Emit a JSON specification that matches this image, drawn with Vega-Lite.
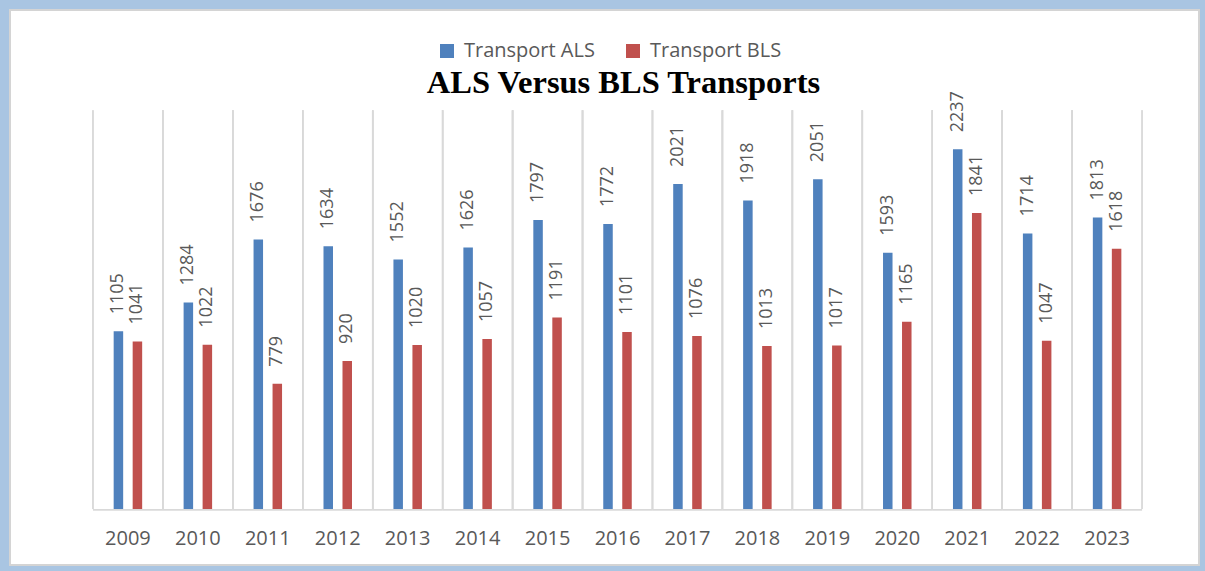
{
  "$schema": "https://vega.github.io/schema/vega-lite/v6.json",
  "width": 1189,
  "height": 555,
  "autosize": {"type": "none"},
  "padding": {"left": 10, "top": 10, "right": 6, "bottom": 6},
  "background": "#a9c5e2",
  "config": {"view": {"fill": "white", "stroke": "#d4d4d4", "strokeWidth": 2}},
  "title": {
    "text": "ALS Versus BLS Transports",
    "font": "Liberation Serif",
    "fontSize": 32.5,
    "fontWeight": "bold",
    "color": "#000000",
    "anchor": "middle",
    "dx": 19,
    "offset": -115,
    "baseline": "alphabetic"
  },
  "data": {
    "values": [
      {"year": "2009", "series": "Transport ALS", "value": 1105},
      {"year": "2009", "series": "Transport BLS", "value": 1041},
      {"year": "2010", "series": "Transport ALS", "value": 1284},
      {"year": "2010", "series": "Transport BLS", "value": 1022},
      {"year": "2011", "series": "Transport ALS", "value": 1676},
      {"year": "2011", "series": "Transport BLS", "value": 779},
      {"year": "2012", "series": "Transport ALS", "value": 1634},
      {"year": "2012", "series": "Transport BLS", "value": 920},
      {"year": "2013", "series": "Transport ALS", "value": 1552},
      {"year": "2013", "series": "Transport BLS", "value": 1020},
      {"year": "2014", "series": "Transport ALS", "value": 1626},
      {"year": "2014", "series": "Transport BLS", "value": 1057},
      {"year": "2015", "series": "Transport ALS", "value": 1797},
      {"year": "2015", "series": "Transport BLS", "value": 1191},
      {"year": "2016", "series": "Transport ALS", "value": 1772},
      {"year": "2016", "series": "Transport BLS", "value": 1101},
      {"year": "2017", "series": "Transport ALS", "value": 2021},
      {"year": "2017", "series": "Transport BLS", "value": 1076},
      {"year": "2018", "series": "Transport ALS", "value": 1918},
      {"year": "2018", "series": "Transport BLS", "value": 1013},
      {"year": "2019", "series": "Transport ALS", "value": 2051},
      {"year": "2019", "series": "Transport BLS", "value": 1017},
      {"year": "2020", "series": "Transport ALS", "value": 1593},
      {"year": "2020", "series": "Transport BLS", "value": 1165},
      {"year": "2021", "series": "Transport ALS", "value": 2237},
      {"year": "2021", "series": "Transport BLS", "value": 1841},
      {"year": "2022", "series": "Transport ALS", "value": 1714},
      {"year": "2022", "series": "Transport BLS", "value": 1047},
      {"year": "2023", "series": "Transport ALS", "value": 1813},
      {"year": "2023", "series": "Transport BLS", "value": 1618}
    ]
  },
  "encoding": {
    "x": {
      "field": "year",
      "type": "nominal",
      "scale": {"paddingInner": 0, "paddingOuter": 1.001, "align": 0.593, "round": false},
      "axis": {
        "orient": "bottom",
        "offset": -56,
        "title": null,
        "labelAngle": 0,
        "ticks": false,
        "grid": false,
        "domain": false,
        "labelFont": "Open Sans",
        "labelFontSize": 20,
        "labelColor": "#595959",
        "labelPadding": 19
      }
    }
  },
  "layer": [
    {
      "mark": {"type": "rule", "color": "#d9d9d9", "strokeWidth": 1.5},
      "encoding": {
        "x": {"field": "year", "type": "nominal", "bandPosition": 0},
        "y": {"datum": 0, "type": "quantitative", "scale": {"domain": [-348.3, 3103.2], "nice": false, "zero": false}, "axis": null},
        "y2": {"datum": 2480}
      }
    },
    {
      "mark": {"type": "rule", "color": "#d9d9d9", "strokeWidth": 1.5},
      "encoding": {
        "x": {"field": "year", "type": "nominal", "bandPosition": 1},
        "y": {"datum": 0, "type": "quantitative"},
        "y2": {"datum": 2480}
      }
    },
    {
      "mark": {"type": "bar", "color": "#d9d9d9"},
      "encoding": {
        "y": {"datum": 0, "type": "quantitative"},
        "y2": {"datum": -10}
      }
    },
    {
      "transform": [{"filter": "datum.series === 'Transport ALS'"}],
      "mark": {"type": "bar", "width": 9.5, "xOffset": -9.5},
      "encoding": {
        "y": {"field": "value", "type": "quantitative"},
        "y2": {"datum": 0},
        "color": {
          "field": "series",
          "type": "nominal",
          "scale": {"domain": ["Transport ALS", "Transport BLS"], "range": ["#4f81bd", "#c0504d"]},
          "legend": {
            "orient": "none",
            "legendX": 427,
            "legendY": 31,
            "direction": "horizontal",
            "title": null,
            "symbolType": "square",
            "symbolSize": 196,
            "symbolStrokeWidth": 0,
            "labelFont": "Open Sans",
            "labelFontSize": 20,
            "labelColor": "#595959",
            "columnPadding": 28,
            "labelOffset": 7
          }
        }
      }
    },
    {
      "transform": [{"filter": "datum.series === 'Transport BLS'"}],
      "mark": {"type": "bar", "width": 9.5, "xOffset": 9.5},
      "encoding": {
        "y": {"field": "value", "type": "quantitative"},
        "y2": {"datum": 0},
        "color": {"field": "series", "type": "nominal"}
      }
    },
    {
      "transform": [{"filter": "datum.series === 'Transport ALS'"}],
      "mark": {
        "type": "text",
        "angle": 270,
        "align": "left",
        "baseline": "middle",
        "dx": 17,
        "xOffset": -9.5,
        "font": "Open Sans",
        "fontSize": 18,
        "color": "#595959"
      },
      "encoding": {
        "y": {"field": "value", "type": "quantitative"},
        "text": {"field": "value", "type": "quantitative"}
      }
    },
    {
      "transform": [{"filter": "datum.series === 'Transport BLS'"}],
      "mark": {
        "type": "text",
        "angle": 270,
        "align": "left",
        "baseline": "middle",
        "dx": 17,
        "xOffset": 9.5,
        "font": "Open Sans",
        "fontSize": 18,
        "color": "#595959"
      },
      "encoding": {
        "y": {"field": "value", "type": "quantitative"},
        "text": {"field": "value", "type": "quantitative"}
      }
    }
  ]
}
